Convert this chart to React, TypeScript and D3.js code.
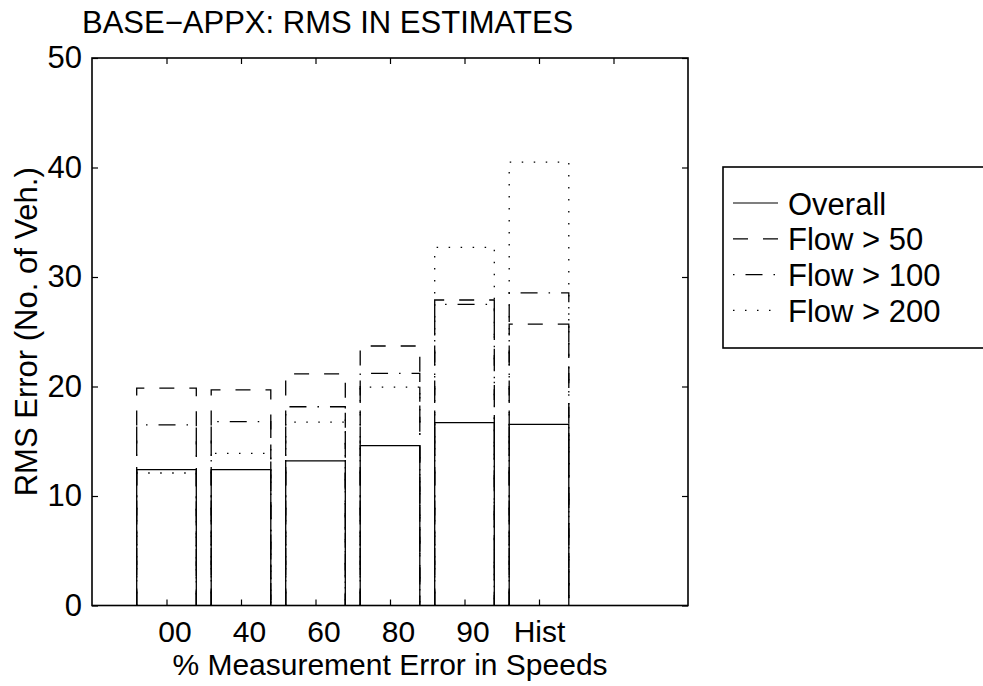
import { useEffect, useRef } from 'react';
import * as d3 from 'd3';

// categories (x tick labels) and series values
const categories = ['00', '40', '60', '80', '90', 'Hist'];
const overall = [12.4, 12.4, 13.2, 14.6, 16.7, 16.55];
const flow50 = [19.85, 19.7, 21.15, 23.7, 27.9, 25.7];
const flow100 = [16.5, 16.8, 18.15, 21.2, 27.5, 28.55];
const flow200 = [12.1, 13.9, 16.75, 19.95, 32.7, 40.5];
const yTicks = [0, 10, 20, 30, 40, 50];

const seriesNames = ['Overall', 'Flow > 50', 'Flow > 100', 'Flow > 200'];
const seriesValues = [overall, flow50, flow100, flow200];
const dashes = ['none', '15 15', '17 11 1.5 11', '1.5 10.5'];
const legendOffsets = [0, 0, 28, 0];

const FONT = '"Liberation Sans", Arial, sans-serif';

const App = () => {
  const svgRef = useRef<SVGSVGElement>(null);

  useEffect(() => {
    const width = 983;
    const height = 686;
    const margin = { top: 58, right: 295, bottom: 80.5, left: 92 };

    const svg = d3.select(svgRef.current);
    svg.selectAll('*').remove();
    svg.attr('width', width).attr('height', height);

    svg.append('rect').attr('width', width).attr('height', height).attr('fill', 'white');

    const x = d3.scaleLinear().domain([0, 8]).range([margin.left, width - margin.right]);
    const y = d3.scaleLinear().domain([0, 50]).range([height - margin.bottom, margin.top]);
    const barHalf = 0.4;

    // bars: outlines only, drawn bottom-left -> top-left -> top-right -> bottom-right
    seriesValues.forEach((vals, s) => {
      svg.append('g')
        .selectAll('path')
        .data(vals)
        .join('path')
        .attr('d', (v, i) => {
          const p = d3.path();
          p.moveTo(x(i + 1 - barHalf), y(0));
          p.lineTo(x(i + 1 - barHalf), y(v));
          p.lineTo(x(i + 1 + barHalf), y(v));
          p.lineTo(x(i + 1 + barHalf), y(0));
          return p.toString();
        })
        .attr('fill', 'none')
        .attr('stroke', 'black')
        .attr('stroke-width', 1.3)
        .attr('stroke-dasharray', dashes[s]);
    });

    const styleAxis = (g: any, size = 31) => {
      g.select('.domain').remove();
      g.selectAll('line').attr('stroke', 'black').attr('stroke-width', 1.2);
      g.selectAll('text').attr('font-family', FONT).attr('font-size', size).attr('fill', 'black');
    };

    // bottom + top axes
    svg.append('g')
      .attr('transform', `translate(0, ${y(0)})`)
      .call(d3.axisBottom(x).tickValues(d3.range(1, 7)).tickFormat((d: any) => categories[d - 1])
        .tickSizeInner(-6).tickSizeOuter(0).tickPadding(15.5))
      .call((g: any) => styleAxis(g, 30))
      .selectAll('text')
      .attr('dx', (d: any) => (categories[d - 1].length === 2 ? 8 : 0));

    svg.append('g')
      .attr('transform', `translate(0, ${y(50)})`)
      .call(d3.axisTop(x).tickValues(d3.range(1, 8)).tickFormat(() => '').tickSizeInner(-6).tickSizeOuter(0))
      .call(styleAxis);

    // left + right axes
    svg.append('g')
      .attr('transform', `translate(${x(0)}, 0)`)
      .call(d3.axisLeft(y).tickValues(yTicks).tickFormat(d3.format('d')).tickSizeInner(-6).tickSizeOuter(0).tickPadding(10))
      .call(styleAxis);

    svg.append('g')
      .attr('transform', `translate(${x(8)}, 0)`)
      .call(d3.axisRight(y).tickValues(yTicks).tickFormat(() => '').tickSizeInner(-6).tickSizeOuter(0))
      .call(styleAxis);

    // frame
    svg.append('rect')
      .attr('x', x(0)).attr('y', y(50))
      .attr('width', x(8) - x(0)).attr('height', y(0) - y(50))
      .attr('fill', 'none').attr('stroke', 'black').attr('stroke-width', 1.6);

    // title and axis labels
    svg.append('text')
      .attr('x', 82).attr('y', 33)
      .attr('font-family', FONT).attr('font-size', 31)
      .text('BASE\u2212APPX: RMS IN ESTIMATES');

    svg.append('text')
      .attr('x', (x(0) + x(8)) / 2).attr('y', 675)
      .attr('text-anchor', 'middle')
      .attr('font-family', FONT).attr('font-size', 30)
      .text('% Measurement Error in Speeds');

    svg.append('text')
      .attr('transform', `translate(37, ${(y(0) + y(50)) / 2}) rotate(-90)`)
      .attr('text-anchor', 'middle')
      .attr('font-family', FONT).attr('font-size', 31)
      .text('RMS Error (No. of Veh.)');

    // legend
    const legend = svg.append('g');
    legend.append('rect')
      .attr('x', 723).attr('y', 167).attr('width', 280).attr('height', 181)
      .attr('fill', 'white').attr('stroke', 'black').attr('stroke-width', 1.6);

    seriesNames.forEach((name, s) => {
      const ly = 203 + s * 35.8;
      legend.append('line')
        .attr('x1', 733).attr('x2', 778).attr('y1', ly).attr('y2', ly)
        .attr('stroke', 'black').attr('stroke-width', 1.2)
        .attr('stroke-dasharray', dashes[s])
        .attr('stroke-dashoffset', legendOffsets[s]);
      legend.append('text')
        .attr('x', 788).attr('y', ly + 11.5)
        .attr('font-family', FONT).attr('font-size', 31)
        .text(name);
    });
  }, []);

  return (
    <svg ref={svgRef} style={{ position: 'absolute', left: 0, top: 0, display: 'block' }}></svg>
  );
};

export default App;
